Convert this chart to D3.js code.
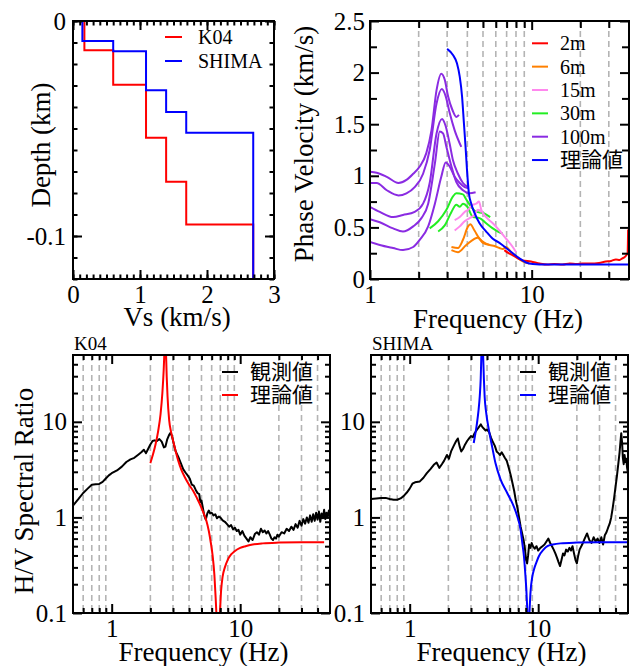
<!DOCTYPE html>
<html>
<head>
<meta charset="utf-8">
<script src="https://cdn.jsdelivr.net/npm/d3@7"></script>
<style>
  html, body { margin: 0; padding: 0; background: #fff; }
  svg { display: block; }
  text { font-family: "Liberation Serif", "Times New Roman", serif; fill: #000; }
  text.cjk { font-family: "Noto Sans CJK JP", "Noto Sans CJK SC", sans-serif; }
</style>
</head>
<body>
<svg id="chart" width="632" height="666"></svg>
<script>
// ---------- Velocity structure (Vs in km/s, layer bottoms in km, negative downward) ----------
const vsTicks = [0, 1, 2, 3];
const depthTicks = [0, -0.1];
const k04Vs = [0.17, 0.6, 1.09, 1.39, 1.69, 2.69];
const k04Bottom = [-0.0136, -0.0296, -0.0543, -0.0748, -0.0947, -0.12];
const shimaVs = [0.14, 0.6, 1.09, 1.39, 1.69, 2.69];
const shimaBottom = [-0.0093, -0.0141, -0.0322, -0.0423, -0.052, -0.12];

// ---------- Phase velocity dispersion (frequency Hz, velocity km/s) ----------
const dispFreqTicks = [1, 10];
const dispFreqMinor = [2, 3, 4, 5, 6, 7, 8, 9, 20, 30];
const velTicks = [0, 0.5, 1, 1.5, 2, 2.5];
const velMinor = [0.25, 0.75, 1.25, 1.75, 2.25];

const array2m = [[6.78,0.28],[7.2,0.25],[7.65,0.23],[8.2,0.2],[8.8,0.18],[9.9,0.17],[11.2,0.15],[12.5,0.14],[13.8,0.145],[15.5,0.14],[17.2,0.15],[19,0.145],[20.6,0.15],[23,0.15],[26.1,0.155],[28.7,0.17],[31,0.175],[33.2,0.19],[35,0.185],[36.4,0.2],[37.5,0.21],[38.5,0.23],[39.2,0.25],[39.5,0.48]];
const array6mA = [[3.19,0.31],[3.5,0.30],[3.76,0.38],[4.04,0.51],[4.17,0.53],[4.43,0.47],[4.76,0.39],[5.11,0.35],[5.49,0.33],[5.89,0.32],[6.32,0.30],[6.63,0.29],[6.95,0.31],[7.46,0.26],[8.01,0.22],[8.81,0.17],[9.68,0.15]];
const array6mB = [[3.19,0.28],[3.5,0.26],[3.94,0.33],[4.65,0.40],[4.99,0.35],[5.49,0.33]];
const array15mA = [[3.34,0.57],[3.59,0.60],[3.85,0.65],[4.04,0.67],[4.33,0.72],[4.54,0.73],[4.72,0.75],[4.88,0.67],[5.23,0.60],[5.75,0.54],[6.32,0.47],[6.95,0.39],[7.64,0.31],[8.01,0.26]];
const array15mB = [[3.34,0.47],[3.59,0.51],[3.85,0.56],[4.13,0.59],[4.43,0.62],[4.65,0.67],[4.88,0.65]];
const array30mA = [[2.34,0.49],[2.64,0.56],[2.97,0.67],[3.26,0.80],[3.42,0.83],[3.76,0.82],[3.94,0.77],[4.23,0.70],[4.54,0.65],[4.99,0.64],[5.54,0.60]];
const array30mB = [[2.64,0.46],[2.90,0.52],[3.19,0.65],[3.42,0.72],[3.59,0.70],[3.76,0.73],[4.0,0.70],[4.33,0.60],[4.76,0.59],[5.23,0.54],[5.75,0.49],[6.18,0.46],[6.63,0.44]];
const array100mA = [[1.0,1.04],[1.10,1.03],[1.27,0.99],[1.50,0.93],[1.68,0.96],[1.85,1.02],[2.03,1.09],[2.23,1.22],[2.40,1.44],[2.58,1.83],[2.76,1.99],[2.90,1.93],[3.04,1.77],[3.23,1.64],[3.42,1.57],[3.55,1.59]];
const array100mB = [[1.0,0.93],[1.10,0.93],[1.27,0.86],[1.50,0.81],[1.68,0.83],[1.89,0.89],[2.13,1.02],[2.34,1.25],[2.58,1.70],[2.78,1.84],[2.94,1.77],[3.11,1.61],[3.34,1.44],[3.67,1.28]];
const array100mC = [[1.0,0.70],[1.15,0.65],[1.39,0.60],[1.60,0.62],[1.89,0.65],[2.13,0.73],[2.34,0.93],[2.58,1.41],[2.79,1.55],[2.94,1.48],[3.11,1.31],[3.26,1.15],[3.50,1.02],[3.76,0.93],[4.04,0.89]];
const array100mD = [[1.0,0.58],[1.15,0.55],[1.39,0.49],[1.60,0.46],[1.85,0.51],[2.08,0.59],[2.29,0.73],[2.52,1.12],[2.70,1.43],[2.83,1.41],[2.97,1.28],[3.19,1.09],[3.42,0.94],[3.76,0.86],[4.13,0.83],[4.50,0.84]];
const array100mE = [[1.0,0.36],[1.15,0.33],[1.39,0.30],[1.60,0.28],[1.85,0.31],[2.03,0.38],[2.29,0.51],[2.52,0.73],[2.76,0.99],[2.94,1.13],[3.11,1.09],[3.34,0.99],[3.59,0.93],[3.85,0.89],[4.04,0.88]];
const theoryDispersion = [[3.0,2.23],[3.26,2.17],[3.45,2.09],[3.59,1.96],[3.71,1.77],[3.81,1.51],[3.90,1.28],[3.98,1.06],[4.09,0.83],[4.23,0.73],[4.43,0.64],[4.76,0.54],[5.23,0.46],[5.75,0.39],[6.32,0.35],[6.95,0.30],[7.64,0.25],[8.40,0.20],[9.23,0.16],[10.15,0.145],[12.3,0.14],[20,0.14],[40,0.14]];

const dispLegend = ["2m", "6m", "15m", "30m", "100m", "理論値"];
const dispColors = ["#ff0000", "#ff8000", "#ff88ee", "#22ee22", "#8a2be2", "#0000ff"];

// ---------- H/V spectral ratio (frequency Hz, ratio) ----------
const hvFreqTicks = [1, 10];
const hvFreqMinor = [0.6, 0.7, 0.8, 0.9, 2, 3, 4, 5, 6, 7, 8, 9, 20, 30, 40];
const hvRatioTicks = [0.1, 1, 10];
const hvRatioMinor = [0.2, 0.3, 0.4, 0.5, 0.6, 0.7, 0.8, 0.9, 2, 3, 4, 5, 6, 7, 8, 9, 20, 30, 40];
const hvLegend = ["観測値", "理論値"];

const k04Observed = [[0.5,1.33],[0.55,1.55],[0.6,1.8],[0.65,2.0],[0.7,2.2],[0.75,2.22],[0.8,2.24],[0.85,2.35],[0.9,2.55],[0.95,2.75],[1.0,2.9],[1.1,3.1],[1.2,3.4],[1.3,3.8],[1.4,4.05],[1.5,4.2],[1.6,4.5],[1.7,4.8],[1.78,5.1],[1.85,4.7],[1.92,5.2],[2.0,5.8],[2.08,6.3],[2.15,6.4],[2.25,6.3],[2.35,6.6],[2.45,6.2],[2.55,5.4],[2.62,5.5],[2.7,6.5],[2.8,7.3],[2.88,7.7],[2.95,7.0],[3.05,5.8],[3.15,4.9],[3.3,4.3],[3.45,3.7],[3.6,3.2],[3.75,2.95],[3.9,2.75],[4.05,2.55],[4.2,2.2],[4.35,2.15],[4.5,1.95],[4.65,1.8],[4.8,1.75],[4.9,1.45],[5.0,1.5],[5.1,1.3],[5.25,1.05],[5.4,0.95],[5.55,1.1],[5.7,1.18],[5.85,1.1],[6.0,1.12],[6.2,1.05],[6.4,1.08],[6.6,0.98],[6.8,1.02],[7.0,1.0],[7.3,0.93],[7.6,0.9],[7.9,0.85],[8.2,0.8],[8.5,0.83],[8.8,0.75],[9.1,0.78],[9.4,0.72],[9.7,0.74],[10.0,0.66],[10.4,0.72],[10.8,0.64],[11.2,0.6],[11.6,0.56],[12.0,0.62],[12.5,0.58],[13.0,0.67],[13.5,0.7],[14.0,0.66],[14.5,0.76],[15.0,0.7],[15.5,0.73],[16.0,0.68],[16.5,0.72],[17.0,0.66],[17.5,0.6],[18.0,0.58],[18.5,0.62],[19.0,0.6],[19.5,0.66],[20,0.63],[21,0.7],[22,0.68],[23,0.76],[24,0.72],[25,0.8],[26,0.74],[27,0.85],[28,0.78],[29,0.92],[30,0.82],[31,0.96],[32,0.86],[33,1.0],[34,0.88],[35,1.05],[36,0.9],[37,1.08],[38,0.92],[39,1.12],[40,0.95],[41,1.15],[42,0.9],[43,1.1],[44,0.98],[45,1.2],[46,0.96],[47,1.12],[48,1.0],[49,1.18],[50,1.05]];
const k04Theory = [[2.0,3.7],[2.1,4.6],[2.2,5.9],[2.3,8.0],[2.4,12],[2.48,20],[2.54,35],[2.58,60],[2.61,90],[2.64,60],[2.68,30],[2.72,18.5],[2.8,10.5],[2.9,7.8],[3.0,6.4],[3.15,4.9],[3.3,3.9],[3.5,3.1],[3.7,2.65],[4.0,2.2],[4.3,1.9],[4.6,1.6],[4.95,1.3],[5.2,1.1],[5.45,0.93],[5.7,0.72],[5.9,0.55],[6.1,0.4],[6.3,0.25],[6.45,0.14],[6.55,0.09],[6.7,0.05],[6.85,0.08],[6.95,0.1],[7.1,0.17],[7.3,0.24],[7.6,0.3],[8.0,0.36],[8.5,0.41],[9.0,0.44],[10,0.48],[11,0.5],[12.5,0.52],[15,0.535],[20,0.545],[30,0.55],[45,0.55]];

const shimaObserved = [[0.5,1.56],[0.55,1.58],[0.6,1.6],[0.65,1.6],[0.7,1.56],[0.75,1.53],[0.8,1.53],[0.85,1.58],[0.9,1.68],[0.95,1.82],[1.0,2.0],[1.05,2.25],[1.1,2.33],[1.2,2.38],[1.28,2.6],[1.36,2.9],[1.45,3.2],[1.54,3.55],[1.62,3.75],[1.7,3.3],[1.78,3.6],[1.85,3.9],[1.95,4.5],[2.02,4.1],[2.1,4.9],[2.2,5.6],[2.3,6.3],[2.37,6.7],[2.45,5.5],[2.52,4.9],[2.6,5.2],[2.7,5.8],[2.8,6.3],[2.9,6.7],[3.0,7.1],[3.1,6.9],[3.2,7.6],[3.35,8.3],[3.5,9.0],[3.58,9.4],[3.68,8.8],[3.8,8.4],[3.9,8.1],[4.0,8.3],[4.15,7.8],[4.3,6.8],[4.45,6.1],[4.6,5.6],[4.75,4.9],[4.9,4.7],[5.05,4.5],[5.2,4.8],[5.35,4.5],[5.5,4.2],[5.7,3.9],[5.9,3.3],[6.1,2.8],[6.3,2.3],[6.5,1.9],[6.7,1.5],[6.9,1.25],[7.1,1.0],[7.3,0.8],[7.5,0.68],[7.7,0.58],[7.9,0.46],[8.05,0.36],[8.2,0.33],[8.35,0.4],[8.5,0.52],[8.7,0.48],[8.9,0.54],[9.1,0.5],[9.4,0.47],[9.7,0.5],[10.0,0.45],[10.4,0.48],[10.8,0.5],[11.2,0.52],[11.6,0.56],[12.0,0.6],[12.4,0.54],[12.8,0.5],[13.2,0.46],[13.6,0.42],[14.0,0.38],[14.4,0.34],[14.8,0.31],[15.2,0.36],[15.6,0.42],[16.0,0.4],[16.5,0.46],[17.0,0.44],[17.5,0.48],[18.0,0.45],[18.5,0.5],[19.0,0.42],[19.5,0.36],[20,0.33],[20.5,0.4],[21,0.46],[22,0.52],[23,0.6],[24,0.68],[25,0.58],[26,0.54],[27,0.62],[28,0.56],[29,0.6],[30,0.54],[31,0.62],[32,0.52],[33,0.65],[34,0.7],[35,0.78],[36,0.86],[37,1.0],[38,1.25],[39,1.6],[40,2.1],[41,2.7],[42,3.6],[43,4.8],[43.7,6.2],[44.3,7.6],[45,6.0],[45.6,4.2],[46.3,3.6],[47,4.5],[47.8,3.8],[48.5,4.1],[49.2,3.3],[50,2.9]];
const shimaTheory = [[3.15,6.0],[3.25,7.6],[3.34,9.7],[3.43,13],[3.51,18.5],[3.57,28],[3.62,55],[3.67,90],[3.72,55],[3.78,28],[3.83,18.5],[3.94,12.4],[4.13,8.3],[4.38,5.5],[4.65,3.7],[5.09,2.5],[5.74,1.8],[6.28,1.42],[6.87,1.03],[7.3,0.74],[7.55,0.52],[7.75,0.39],[7.95,0.25],[8.08,0.18],[8.2,0.12],[8.35,0.06],[8.55,0.1],[8.7,0.16],[9.0,0.24],[9.24,0.28],[9.7,0.34],[10.1,0.39],[11,0.46],[11.8,0.5],[13,0.52],[14.9,0.535],[20,0.545],[30,0.55],[50,0.55]];

// ---------- drawing helpers ----------
const svg = d3.select("#chart");
const defs = svg.append("defs");
const TICK_FONT = 25, TITLE_FONT = 27;

function clipFor(id, box) {
  defs.append("clipPath").attr("id", id).append("rect")
    .attr("x", box.l).attr("y", box.t).attr("width", box.r - box.l).attr("height", box.b - box.t);
  return svg.append("g").attr("clip-path", `url(#${id})`);
}

function gridLines(x, values, box) {
  svg.append("g").selectAll("line").data(values).join("line")
    .attr("x1", d => x(d)).attr("x2", d => x(d))
    .attr("y1", box.t).attr("y2", box.b)
    .attr("stroke", "#b4b4b4").attr("stroke-width", 1.6).attr("stroke-dasharray", "6,4");
}

function styleAxis(sel) {
  sel.attr("font-family", null).attr("font-size", TICK_FONT);
  sel.select(".domain").remove();
  sel.selectAll("line").attr("stroke", "#000").attr("stroke-width", 2);
}

function axes(x, y, box, o) {
  const majLen = 9, minLen = o.minLen || 5;
  const g = svg.append("g");
  const put = (axis, tx, ty) => g.append("g").attr("transform", `translate(${tx},${ty})`).call(axis).call(styleAxis);
  // minor ticks on all four sides
  if (o.xMinor) {
    put(d3.axisBottom(x).tickValues(o.xMinor).tickFormat("").tickSize(-minLen), 0, box.b);
    put(d3.axisTop(x).tickValues(o.xMinor).tickFormat("").tickSize(-minLen), 0, box.t);
  }
  if (o.yMinor) {
    put(d3.axisLeft(y).tickValues(o.yMinor).tickFormat("").tickSize(-minLen), box.l, 0);
    put(d3.axisRight(y).tickValues(o.yMinor).tickFormat("").tickSize(-minLen), box.r, 0);
  }
  // major ticks with labels on the bottom and left
  put(d3.axisBottom(x).tickValues(o.xMajor).tickFormat(o.xFmt).tickSize(-majLen).tickPadding(6), 0, box.b);
  put(d3.axisTop(x).tickValues(o.xMajor).tickFormat("").tickSize(-majLen), 0, box.t);
  const left = put(d3.axisLeft(y).tickValues(o.yMajor).tickFormat(o.yFmt).tickSize(-majLen).tickPadding(o.yPad || 7), box.l, 0);
  put(d3.axisRight(y).tickValues(o.yMajor).tickFormat("").tickSize(-majLen), box.r, 0);
  left.selectAll("text").attr("x", -(o.yPad || 7));
  // frame
  svg.append("rect").attr("x", box.l).attr("y", box.t)
    .attr("width", box.r - box.l).attr("height", box.b - box.t)
    .attr("fill", "none").attr("stroke", "#000").attr("stroke-width", 2);
}

function title(text, x, y, rotate) {
  const t = svg.append("text").attr("font-size", TITLE_FONT).attr("text-anchor", "middle").text(text);
  if (rotate) t.attr("transform", `translate(${x},${y}) rotate(-90)`);
  else t.attr("x", x).attr("y", y);
  return t;
}

function legendRow(x1, x2, tx, y, color, label, cjk, size) {
  svg.append("line").attr("x1", x1).attr("x2", x2).attr("y1", y).attr("y2", y)
    .attr("stroke", color).attr("stroke-width", 2);
  svg.append("text").attr("x", tx).attr("y", y).attr("dy", "0.35em")
    .attr("class", cjk ? "cjk" : null).attr("font-size", size).text(label);
}

// ---------- panel 1: Vs profile ----------
{
  const box = { l: 73, r: 274, t: 21, b: 279 };
  const x = d3.scaleLinear().domain([0, 3]).range([box.l, box.r]);
  const y = d3.scaleLinear().domain([0, -0.12]).range([box.t, box.b]);
  const stepPoints = (vs, bottoms) => {
    const pts = []; let top = 0;
    vs.forEach((v, i) => { pts.push([v, top]); pts.push([v, bottoms[i]]); top = bottoms[i]; });
    return pts;
  };
  const line = d3.line().x(d => x(d[0])).y(d => y(d[1]));
  const g = clipFor("clip-vs", box);
  g.append("path").datum(stepPoints(k04Vs, k04Bottom)).attr("d", line)
    .attr("fill", "none").attr("stroke", "#ff0000").attr("stroke-width", 2);
  g.append("path").datum(stepPoints(shimaVs, shimaBottom)).attr("d", line)
    .attr("fill", "none").attr("stroke", "#0000ff").attr("stroke-width", 2);
  axes(x, y, box, {
    xMajor: vsTicks, xMinor: d3.range(0, 3.0001, 0.1), xFmt: d => String(d),
    yMajor: depthTicks, yMinor: d3.range(0, -0.12001, -0.01), yFmt: d => String(d),
    minLen: 4.5
  });
  legendRow(165, 182, 198, 37, "#ff0000", "K04", false, 20);
  legendRow(165, 182, 198, 61, "#0000ff", "SHIMA", false, 20);
  title("Vs (km/s)", 177, 326, false);
  title("Depth (km)", 50, 145, true);
}

// ---------- panel 2: phase velocity dispersion ----------
{
  const box = { l: 370, r: 629, t: 21, b: 279 };
  const x = d3.scaleLog().domain([1, 40]).range([box.l, box.r]);
  const y = d3.scaleLinear().domain([0, 2.5]).range([box.b, box.t]);
  gridLines(x, dispFreqMinor, box);
  const line = d3.line().x(d => x(d[0])).y(d => y(d[1])).curve(d3.curveMonotoneX);
  const g = clipFor("clip-disp", box);
  const groups = [
    [[array100mA, array100mB, array100mC, array100mD, array100mE], dispColors[4]],
    [[array30mA, array30mB], dispColors[3]],
    [[array15mA, array15mB], dispColors[2]],
    [[array6mA, array6mB], dispColors[1]],
    [[array2m], dispColors[0]],
    [[theoryDispersion], dispColors[5]]
  ];
  groups.forEach(([series, color]) => {
    g.append("g").selectAll("path").data(series).join("path")
      .attr("d", line).attr("fill", "none").attr("stroke", color).attr("stroke-width", 2);
  });
  axes(x, y, box, {
    xMajor: dispFreqTicks, xMinor: dispFreqMinor, xFmt: d => String(d),
    yMajor: velTicks, yMinor: velMinor, yFmt: d => String(d), minLen: 7, yPad: 5
  });
  dispLegend.forEach((lab, i) => {
    legendRow(532, 548, 560, 43.3 + i * 23.35, dispColors[i], lab, i === 5, i === 5 ? 21 : 20);
  });
  title("Frequency (Hz)", 498, 328, false);
  title("Phase Velocity (km/s)", 313, 144, true);
}

// ---------- panels 3 & 4: H/V spectral ratio ----------
function hvPanel(id, box, station, observed, theory, theoryColor, legendX) {
  const x = d3.scaleLog().domain([0.5, 50]).range([box.l, box.r]);
  const y = d3.scaleLog().domain([0.1, 50]).range([box.b, box.t]);
  gridLines(x, hvFreqMinor, box);
  const g = clipFor(id, box);
  g.append("path").datum(observed)
    .attr("d", d3.line().x(d => x(d[0])).y(d => y(d[1])))
    .attr("fill", "none").attr("stroke", "#000").attr("stroke-width", 2).attr("stroke-linejoin", "round");
  g.append("path").datum(theory)
    .attr("d", d3.line().x(d => x(d[0])).y(d => y(d[1])).curve(d3.curveMonotoneX))
    .attr("fill", "none").attr("stroke", theoryColor).attr("stroke-width", 2);
  axes(x, y, box, {
    xMajor: hvFreqTicks, xMinor: hvFreqMinor, xFmt: d => String(d),
    yMajor: hvRatioTicks, yMinor: hvRatioMinor, yFmt: d => String(d), yPad: 6
  });
  svg.append("text").attr("x", box.l + 1).attr("y", 350).attr("font-size", 19).text(station);
  legendRow(legendX, legendX + 16, legendX + 28, 372, "#000", hvLegend[0], true, 21);
  legendRow(legendX, legendX + 16, legendX + 28, 395, theoryColor, hvLegend[1], true, 21);
  title("Frequency (Hz)", (box.l + box.r) / 2 + 2, 661, false);
}

hvPanel("clip-k04", { l: 73, r: 330, t: 355, b: 613 }, "K04", k04Observed, k04Theory, "#ff0000", 222);
hvPanel("clip-shima", { l: 371, r: 628, t: 355, b: 613 }, "SHIMA", shimaObserved, shimaTheory, "#0000ff", 520);
title("H/V Spectral Ratio", 33, 491, true);
</script>
</body>
</html>
